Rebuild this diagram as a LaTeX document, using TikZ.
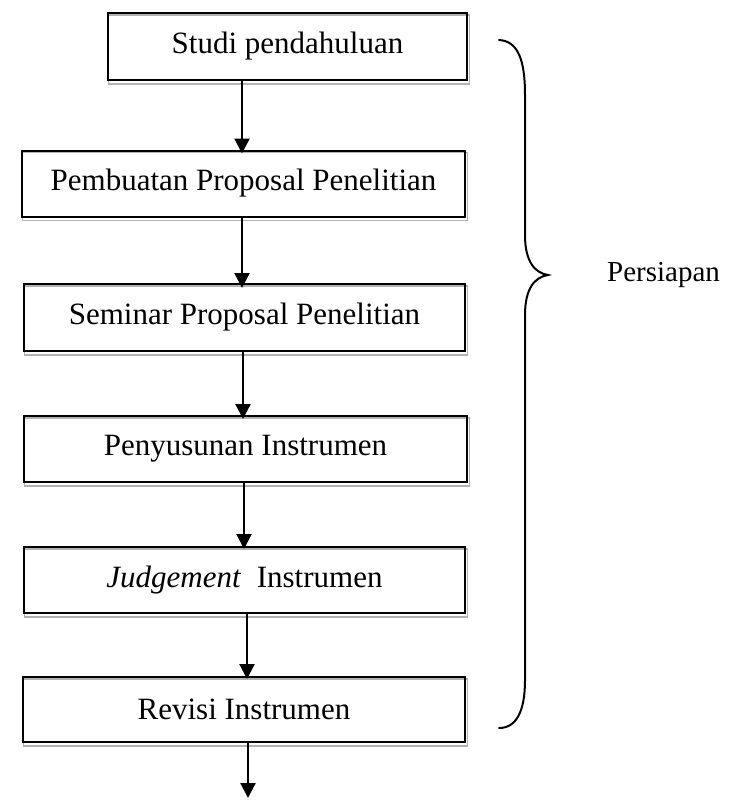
\documentclass[tikz,border=0pt]{standalone}
\usepackage{fontspec}
\setmainfont{Liberation Serif}
\usetikzlibrary{arrows.meta,backgrounds}
\begin{document}
\begin{tikzpicture}[x=1pt,y=-1pt,
  stepbox/.style={draw=black,line width=2pt,rectangle,inner sep=0pt,font=\fontsize{31}{35}\selectfont},
  shadowline/.style={draw=gray!60,line width=1.6pt},
  flow/.style={line width=2.2pt,-{Triangle[length=15pt,width=15pt]}},
  bracel/.style={line width=2pt,line cap=round}]
\useasboundingbox (0,0) rectangle (730,800);
\node[stepbox,minimum width=359pt,minimum height=67pt] (b1) at (287.5,46.5) {Studi pendahuluan};
\node[stepbox,minimum width=443pt,minimum height=66pt] (b2) at (243.5,183.5) {Pembuatan Proposal Penelitian};
\node[stepbox,minimum width=441pt,minimum height=67pt] (b3) at (244.5,317.5) {Seminar Proposal Penelitian};
\node[stepbox,minimum width=443pt,minimum height=66pt] (b4) at (245.5,449) {Penyusunan Instrumen};
\node[stepbox,minimum width=441pt,minimum height=66pt] (b5) at (244.5,580) {\textit{Judgement}\ \ Instrumen};
\node[stepbox,minimum width=442pt,minimum height=65pt] (b6) at (244,709.5) {Revisi Instrumen};
\begin{scope}[on background layer]
\foreach \b in {b1,b2,b3,b4,b5,b6}{
  \draw[shadowline] ([shift={(1.5,3)}]\b.south west) rectangle ([shift={(1.5,3)}]\b.north east);
}
\end{scope}
\coordinate (e6) at (248,798);
\draw[flow] (b1.south -| 242,0) -- ([yshift=-4]b2.north -| 242,0);
\draw[flow] (b2.south -| 242,0) -- ([yshift=-5]b3.north -| 242,0);
\draw[flow] (b3.south -| 243,0) -- ([yshift=-4]b4.north -| 243,0);
\draw[flow] (b4.south -| 244,0) -- ([yshift=-3]b5.north -| 244,0);
\draw[flow] (b5.south -| 247,0) -- ([yshift=-3]b6.north -| 247,0);
\draw[flow] (b6.south -| 248,0) -- (e6);
\coordinate (bt) at (499,40);
\coordinate (bm) at (548,275);
\coordinate (bb) at (499,728);
\node[font=\fontsize{29}{33}\selectfont,anchor=west,inner sep=0pt] (lbl) at (607,275) {Persiapan};
\draw[bracel] (bt) .. controls (518,41) and (525,60) .. (525,95)
  -- (525,235) .. controls (525,262) and (535,273) .. (bm)
  .. controls (535,277) and (525,288) .. (525,315)
  -- (525,680) .. controls (525,712) and (516,728) .. (bb);
\end{tikzpicture}
\end{document}
